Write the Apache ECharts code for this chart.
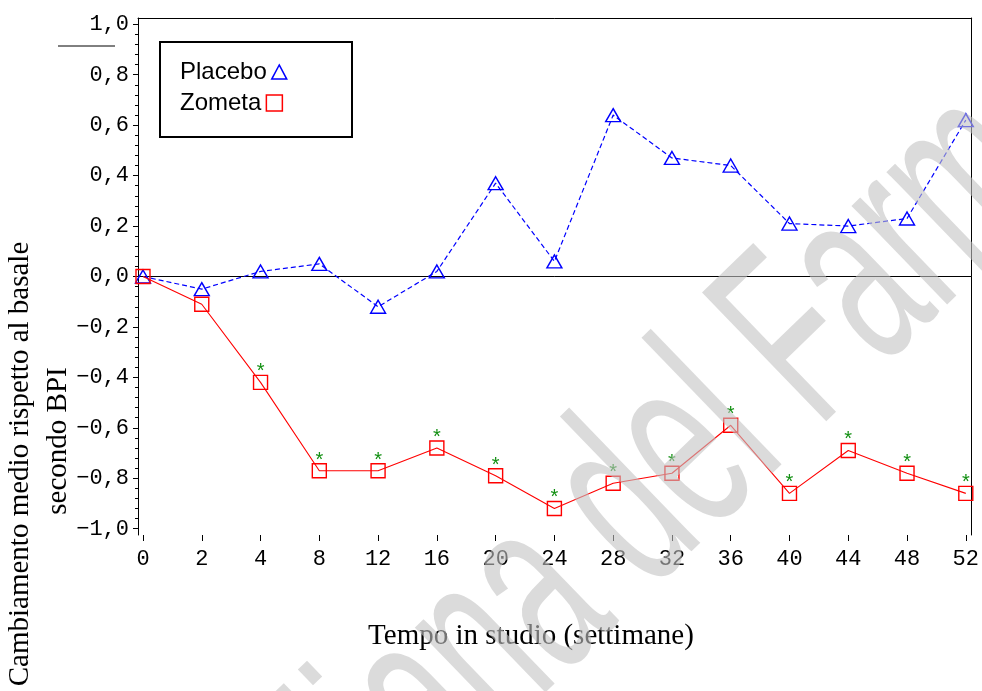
<!DOCTYPE html>
<html><head><meta charset="utf-8">
<script src="https://cdn.jsdelivr.net/npm/echarts@6/dist/echarts.min.js"></script>
<style>html,body{margin:0;padding:0;background:#fff}#c{width:982px;height:691px}</style>
</head><body><div id="c"></div>
<script>
// ---- data ----
const weeks = ['0','2','4','8','12','16','20','24','28','32','36','40','44','48','52'];
const placebo = [0.00,-0.05,0.02,0.05,-0.12,0.02,0.37,0.06,0.64,0.47,0.44,0.21,0.20,0.23,0.62];
const zometa  = [0.00,-0.11,-0.42,-0.77,-0.77,-0.68,-0.79,-0.92,-0.82,-0.78,-0.59,-0.86,-0.69,-0.78,-0.86];
const zometaSignificant = [false,false,true,true,true,true,true,true,true,true,true,true,true,true,true];
const yTickValues = [-1,-0.8,-0.6,-0.4,-0.2,0,0.2,0.4,0.6,0.8,1];
const yTickLabels = ['\u22121,0','\u22120,8','\u22120,6','\u22120,4','\u22120,2','0,0','0,2','0,4','0,6','0,8','1,0'];
const seriesNames = ['Placebo','Zometa'];
const xTitle = 'Tempo in studio (settimane)';
const yTitle1 = 'Cambiamento medio rispetto al basale';
const yTitle2 = 'secondo BPI';
const watermarkA = 'Agenzia Italiana\u00a0';
const watermarkB = 'del Farmaco';

// ---- derived ----
const xIdx = weeks.map((_, i) => i);
const yMinor = [];
for (let k = 0; k < yTickValues.length - 1; k++) {
  const a = yTickValues[k], b = yTickValues[k + 1];
  for (let j = 1; j < 5; j++) yMinor.push(+(a + (b - a) * j / 5).toFixed(4));
}
function yLabel(v) {
  for (let i = 0; i < yTickValues.length; i++) if (Math.abs(v - yTickValues[i]) < 1e-6) return yTickLabels[i];
  return '';
}
const mono = 'Liberation Mono';
const blackLine = {show: true, onZero: false, lineStyle: {color: '#000', width: 1}};
const noLine = {show: false, onZero: false};
const legendText = {fontFamily: 'Liberation Sans', fontSize: 24, color: '#000', padding: [0, 0, 0, 0]};
const wmStyle = {fontFamily: 'Liberation Sans', fontSize: 260, fill: 'rgba(195,195,195,0.6)',
  textVerticalAlign: 'middle', verticalAlign: 'middle'};
const wmRot = 44 * Math.PI / 180;

const chart = echarts.init(document.getElementById('c'), null, {renderer: 'canvas'});
chart.setOption({
  animation: false,
  backgroundColor: '#fff',
  grid: {left: 138, right: 8, top: 18, bottom: 156, containLabel: false},
  xAxis: [{
    type: 'value', min: -0.085, max: 14.1, position: 'bottom',
    axisLine: noLine, splitLine: {show: false},
    axisTick: {show: true, customValues: xIdx, length: 6, lineStyle: {color: '#000', width: 1}},
    axisLabel: {show: true, customValues: xIdx, formatter: v => weeks[Math.round(v)], margin: 13,
      fontFamily: mono, fontSize: 22, color: '#000'}
  }, {
    type: 'value', min: -0.085, max: 14.1, position: 'top',
    axisLine: blackLine, axisTick: {show: false}, axisLabel: {show: false}, splitLine: {show: false}
  }],
  yAxis: [{
    type: 'value', min: -1.025, max: 1.025, position: 'left',
    axisLine: blackLine, splitLine: {show: false},
    axisTick: {show: true, customValues: yTickValues, length: 5, lineStyle: {color: '#000'}},
    axisLabel: {show: true, customValues: yTickValues, formatter: yLabel, margin: 9,
      fontFamily: mono, fontSize: 22, color: '#000'}
  }, {
    type: 'value', min: -1.025, max: 1.025, position: 'left',
    axisLine: noLine, splitLine: {show: false}, axisLabel: {show: false},
    axisTick: {show: true, customValues: yMinor, length: 3, lineStyle: {color: '#000'}}
  }, {
    type: 'value', min: -1.025, max: 1.025, position: 'right',
    axisLine: blackLine, axisTick: {show: false}, axisLabel: {show: false}, splitLine: {show: false}
  }],
  legend: [{
    left: 180, top: 60, orient: 'horizontal', align: 'right', padding: 0,
    itemWidth: 15, itemHeight: 15, textStyle: legendText,
    data: [{name: seriesNames[0], icon: 'path://M8,0 L16,15 L0,15 Z',
      itemStyle: {color: 'rgba(0,0,0,0)', borderColor: '#0000ff', borderWidth: 1.5}}]
  }, {
    left: 180, top: 91, orient: 'horizontal', align: 'right', padding: 0,
    itemWidth: 16, itemHeight: 16, textStyle: legendText,
    data: [{name: seriesNames[1], icon: 'rect',
      itemStyle: {color: 'rgba(0,0,0,0)', borderColor: '#ff0000', borderWidth: 1.5}}]
  }],
  series: [{
    name: seriesNames[0], type: 'line', xAxisIndex: 0, yAxisIndex: 0,
    data: placebo.map((v, i) => [i, v]),
    symbol: 'triangle', symbolSize: [15, 13],
    lineStyle: {color: '#0000ff', width: 1.2, type: [5, 3]},
    itemStyle: {color: 'rgba(0,0,0,0)', borderColor: '#0000ff', borderWidth: 1.4},
    z: 3,
    markLine: {silent: true, symbol: 'none', label: {show: false},
      lineStyle: {color: '#000', width: 1, type: 'solid'}, data: [{yAxis: 0}], z: 1}
  }, {
    name: seriesNames[1], type: 'line', xAxisIndex: 0, yAxisIndex: 0,
    data: zometa.map((v, i) => ({value: [i, v], label: {show: zometaSignificant[i]}})),
    symbol: 'rect', symbolSize: 14,
    lineStyle: {color: '#ff0000', width: 1.1, type: 'solid'},
    itemStyle: {color: 'rgba(0,0,0,0)', borderColor: '#ff0000', borderWidth: 1.4},
    label: {show: false, position: 'top', formatter: '*', distance: -7,
      color: '#118f11', fontFamily: 'Liberation Sans', fontSize: 20},
    z: 4
  }],
  graphic: [
    {type: 'rect', z: 5, shape: {x: 160, y: 42, width: 192, height: 95},
      style: {fill: 'rgba(0,0,0,0)', stroke: '#000', lineWidth: 2}},
    {type: 'text', x: 531, y: 636, z: 10,
      style: {text: xTitle, fontFamily: 'Liberation Serif', fontSize: 29, fill: '#000',
        textAlign: 'center', textVerticalAlign: 'middle', align: 'center', verticalAlign: 'middle'}},
    {type: 'text', x: 20, y: 464, rotation: Math.PI / 2, z: 10,
      style: {text: yTitle1, fontFamily: 'Liberation Serif', fontSize: 29, fill: '#000',
        textAlign: 'center', textVerticalAlign: 'middle', align: 'center', verticalAlign: 'middle'}},
    {type: 'text', x: 58, y: 441, rotation: Math.PI / 2, z: 10,
      style: {text: yTitle2, fontFamily: 'Liberation Serif', fontSize: 29, fill: '#000',
        textAlign: 'center', textVerticalAlign: 'middle', align: 'center', verticalAlign: 'middle'}},
    {type: 'line', z: 10, shape: {x1: 58, y1: 46, x2: 115, y2: 46}, style: {stroke: '#000', lineWidth: 1}},
    {type: 'text', x: 599, y: 541, rotation: wmRot, scaleX: 0.56, z: 100, silent: true,
      style: Object.assign({text: watermarkB, textAlign: 'left', align: 'left'}, wmStyle)},
    {type: 'text', x: 599, y: 541, rotation: wmRot, scaleX: 0.56, z: 100, silent: true,
      style: Object.assign({text: watermarkA, textAlign: 'right', align: 'right'}, wmStyle)}
  ]
});
</script>
</body></html>
